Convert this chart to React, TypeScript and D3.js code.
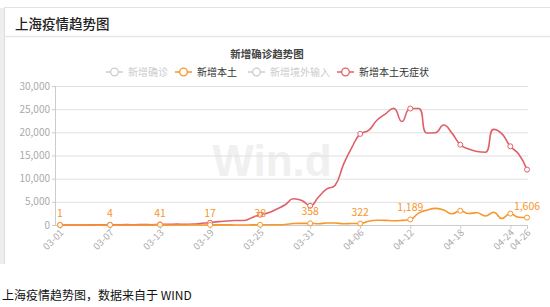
import React from "react";
import * as d3 from "d3";

const dates = [
  "03-01","03-02","03-03","03-04","03-05","03-06","03-07","03-08","03-09","03-10",
  "03-11","03-12","03-13","03-14","03-15","03-16","03-17","03-18","03-19","03-20",
  "03-21","03-22","03-23","03-24","03-25","03-26","03-27","03-28","03-29","03-30",
  "03-31","04-01","04-02","04-03","04-04","04-05","04-06","04-07","04-08","04-09",
  "04-10","04-11","04-12","04-13","04-14","04-15","04-16","04-17","04-18","04-19",
  "04-20","04-21","04-22","04-23","04-24","04-25","04-26",
];

const localConfirmed = [
  1, 3, 2, 3, 0, 3, 4, 3, 4, 11,
  5, 1, 41, 9, 5, 8, 57, 8, 17, 24,
  31, 4, 4, 29, 38, 45, 50, 96, 326, 355,
  358, 260, 438, 425, 268, 311, 322, 824, 1015, 1006,
  914, 994, 1189, 2573, 3200, 3590, 3238, 2417, 3084, 2494,
  2634, 1931, 2736, 1401, 2472, 1661, 1606,
];

const localAsymptomatic = [
  1, 5, 14, 16, 28, 45, 51, 62, 76, 64,
  78, 64, 128, 130, 197, 150, 203, 366, 492, 734,
  865, 977, 979, 1580, 2231, 2631, 3450, 4381, 5656, 5298,
  4144, 6051, 7788, 8581, 13086, 16766, 19660, 20398, 22609, 23937,
  25173, 22348, 25141, 25146, 19872, 19923, 21582, 19831, 17332, 16407,
  15861, 15698, 20634, 19657, 16983, 15319, 11956,
];

const tickDates = ["03-01","03-07","03-13","03-19","03-25","03-31","04-06","04-12","04-18","04-24","04-26"];
const labelDates = ["03-01","03-07","03-13","03-19","03-25","03-31","04-06","04-12","04-26"];
const yTicks = [0, 5000, 10000, 15000, 20000, 25000, 30000];

const legendItems = [
  { name: "新增确诊", active: false },
  { name: "新增本土", active: true, color: "#f7962a" },
  { name: "新增境外输入", active: false },
  { name: "新增本土无症状", active: true, color: "#e0606a" },
];

const ORANGE = "#f7962a";
const RED = "#e0606a";
const FONT = "'Noto Sans CJK SC', 'Noto Sans', sans-serif";

// ECharts-like smooth curve implemented as a d3 curve factory
function echartsSmooth(context: any) {
  let pts: [number, number][] = [];
  const smooth = 0.5;
  return {
    areaStart() {},
    areaEnd() {},
    lineStart() { pts = []; },
    point(x: number, y: number) { pts.push([+x, +y]); },
    lineEnd() {
      const n = pts.length;
      if (!n) return;
      let prevX = 0, prevY = 0, cpx0 = 0, cpy0 = 0;
      for (let k = 0; k < n; k++) {
        const [x, y] = pts[k];
        if (k === 0) {
          context.moveTo(x, y);
          cpx0 = x; cpy0 = y;
        } else {
          let cpx1: number, cpy1: number, nextCpx0 = x, nextCpy0 = y;
          if (k === n - 1) {
            cpx1 = x; cpy1 = y;
          } else {
            const [nextX, nextY] = pts[k + 1];
            let vx = nextX - prevX, vy = nextY - prevY;
            const dx0 = x - prevX, dx1 = nextX - x, dy0 = y - prevY, dy1 = nextY - y;
            const lenPrev = Math.sqrt(dx0 * dx0 + dy0 * dy0);
            const lenNext = Math.sqrt(dx1 * dx1 + dy1 * dy1);
            const ratio = lenNext / (lenNext + lenPrev);
            nextCpx0 = x + vx * smooth * ratio;
            nextCpy0 = y + vy * smooth * ratio;
            nextCpx0 = Math.min(nextCpx0, Math.max(nextX, x));
            nextCpy0 = Math.min(nextCpy0, Math.max(nextY, y));
            nextCpx0 = Math.max(nextCpx0, Math.min(nextX, x));
            nextCpy0 = Math.max(nextCpy0, Math.min(nextY, y));
            vx = nextCpx0 - x; vy = nextCpy0 - y;
            cpx1 = x - vx * lenPrev / lenNext;
            cpy1 = y - vy * lenPrev / lenNext;
            cpx1 = Math.min(cpx1, Math.max(prevX, x));
            cpy1 = Math.min(cpy1, Math.max(prevY, y));
            cpx1 = Math.max(cpx1, Math.min(prevX, x));
            cpy1 = Math.max(cpy1, Math.min(prevY, y));
            vx = x - cpx1; vy = y - cpy1;
            nextCpx0 = x + vx * lenNext / lenPrev;
            nextCpy0 = y + vy * lenNext / lenPrev;
          }
          context.bezierCurveTo(cpx0, cpy0, cpx1, cpy1, x, y);
          cpx0 = nextCpx0; cpy0 = nextCpy0;
        }
        prevX = x; prevY = y;
      }
    },
  };
}

export default function App() {
  const W = 550, H = 307;
  const axisX = 55;
  const x = d3.scalePoint<string>().domain(dates).range([60, 527]);
  const y = d3.scaleLinear().domain([0, 30000]).range([225, 86]);

  const line = d3
    .line<number>()
    .x((_, i) => x(dates[i]) as number)
    .y((d) => y(d))
    .curve(echartsSmooth as any);

  const markerIdx = tickDates.map((t) => dates.indexOf(t));

  // legend layout
  const legendY = 72;
  const legendPos = [106, 175, 248, 337];

  return (
    <svg
      width={W}
      height={H}
      style={{ position: "absolute", left: 0, top: 0, fontFamily: FONT }}
    >
      <rect x={0} y={0} width={W} height={H} fill="#fff" />
      {/* card */}
      <rect x={0} y={8} width={4} height={256} fill="#eeeeee" />
      <line x1={4.5} y1={8} x2={4.5} y2={264} stroke="#dcdcdc" />
      <line x1={4} y1={7.5} x2={W} y2={7.5} stroke="#e2e2e2" />
      <line x1={4} y1={36.5} x2={W} y2={36.5} stroke="#e6e6e6" strokeWidth={1.5} />
      <text x={15} y={29} fontSize={13.5} fontWeight={500} fill="#222">
        上海疫情趋势图
      </text>

      {/* chart title */}
      <text x={267} y={58} fontSize={10.5} fontWeight={600} fill="#444" textAnchor="middle">
        新增确诊趋势图
      </text>

      {/* legend */}
      {legendItems.map((it, i) => {
        const lx = legendPos[i];
        const c = it.active ? (it.color as string) : "#cccccc";
        return (
          <g key={it.name}>
            <line x1={lx} y1={legendY} x2={lx + 17} y2={legendY} stroke={c} strokeWidth={1.5} />
            <circle cx={lx + 8.5} cy={legendY} r={3.8} fill="#fff" stroke={c} strokeWidth={1.3} />
            <text
              x={lx + 22}
              y={legendY + 3.5}
              fontSize={10}
              fill={it.active ? "#333" : "#cccccc"}
            >
              {it.name}
            </text>
          </g>
        );
      })}

      {/* watermark */}
      <text x={272} y={176} fontSize={44} fontWeight={700} fill="#f0f0f0" textAnchor="middle" fontFamily="'Liberation Sans', Arial, sans-serif">
        Win.d
      </text>

      {/* grid + y axis */}
      {yTicks.map((t) => (
        <g key={t}>
          {t > 0 && (
            <line x1={axisX} x2={528} y1={y(t) + 0.5} y2={y(t) + 0.5} stroke="#e0e0e0" />
          )}
          <line x1={axisX - 3} x2={axisX} y1={y(t) + 0.5} y2={y(t) + 0.5} stroke="#cccccc" />
          <text x={axisX - 5} y={y(t) + 3.5} fontSize={10} fill="#aaaaaa" textAnchor="end">
            {d3.format(",")(t)}
          </text>
        </g>
      ))}
      <line x1={axisX + 0.5} x2={axisX + 0.5} y1={86} y2={225} stroke="#cccccc" />
      <line x1={axisX} x2={528} y1={225.5} y2={225.5} stroke="#cccccc" />

      {/* x ticks & labels */}
      {tickDates.map((t) => {
        const px = x(t) as number;
        return (
          <g key={t}>
            <line x1={px + 0.5} x2={px + 0.5} y1={225} y2={229} stroke="#cccccc" />
            <text
              transform={`translate(${px + 2},${231}) rotate(-45)`}
              fontSize={9.5}
              fill="#aaaaaa"
              textAnchor="end"
              dy="0.35em"
            >
              {t}
            </text>
          </g>
        );
      })}

      {/* series */}
      <path d={line(localAsymptomatic) as string} fill="none" stroke={RED} strokeWidth={1.6} />
      <path d={line(localConfirmed) as string} fill="none" stroke={ORANGE} strokeWidth={1.6} />

      {markerIdx.map((i) => (
        <circle key={"r" + i} cx={x(dates[i])} cy={y(localAsymptomatic[i])} r={2.5} fill="#fff" stroke={RED} strokeWidth={1} />
      ))}
      {markerIdx.map((i) => (
        <circle key={"o" + i} cx={x(dates[i])} cy={y(localConfirmed[i])} r={2.5} fill="#fff" stroke={ORANGE} strokeWidth={1} />
      ))}

      {labelDates.map((t) => {
        const i = dates.indexOf(t);
        return (
          <text
            key={"l" + t}
            x={x(t)}
            y={y(localConfirmed[i]) - 8}
            fontSize={10.5}
            fill={ORANGE}
            textAnchor="middle"
          >
            {d3.format(",")(localConfirmed[i])}
          </text>
        );
      })}

      {/* caption */}
      <text x={2} y={300} fontSize={12} fill="#111">
        上海疫情趋势图，数据来自于 WIND
      </text>
    </svg>
  );
}
